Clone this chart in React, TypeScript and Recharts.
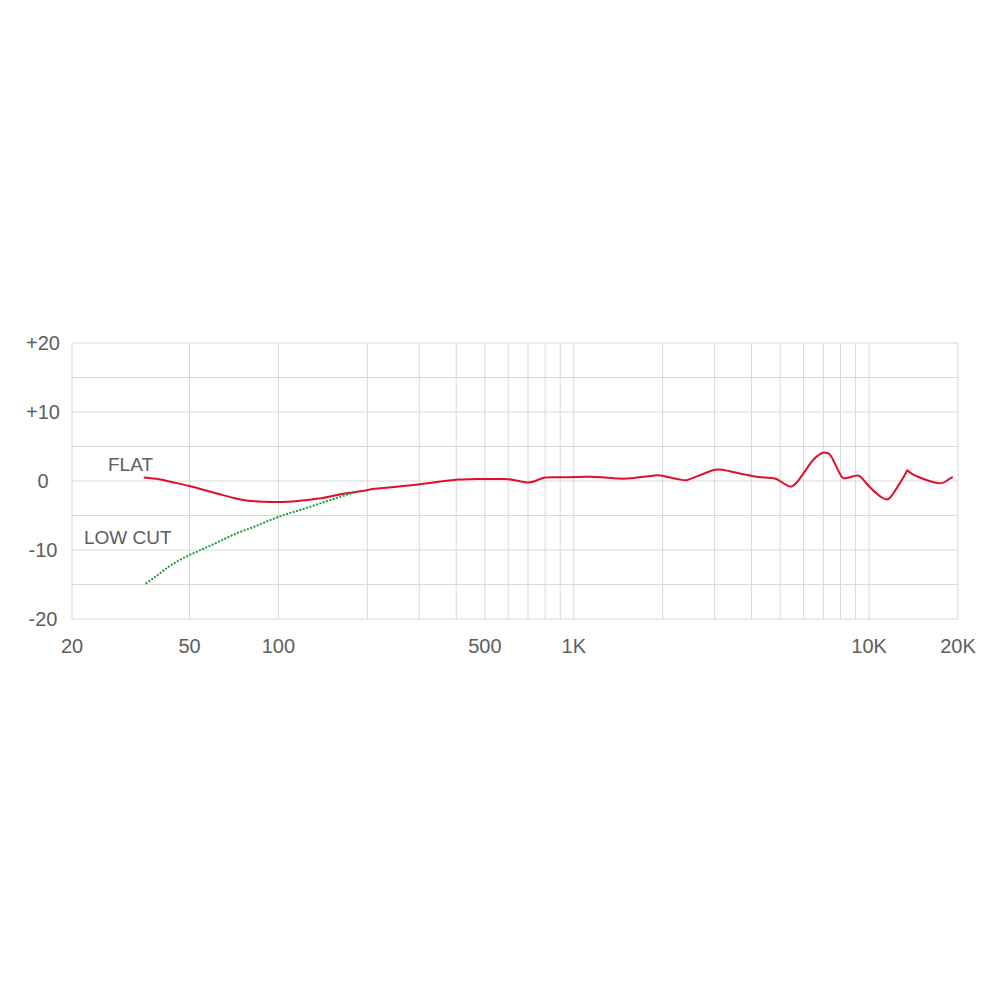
import { LineChart, Line, XAxis, YAxis, CartesianGrid, Customized } from "recharts"

// frequency response, FLAT setting (Hz / dB)
const flatFreq = [
  35, 39.4, 43.6, 49.6, 56.5, 64.2, 73, 83, 94.5, 107.5, 116, 139.5, 155, 176, 201, 217, 297, 406,
  500, 585, 633, 693, 740, 800, 911, 1092, 1242, 1413, 1607, 1876, 2026, 2300, 2430, 2621, 2982,
  3305, 4061, 4741, 4989, 5323, 5676, 6291, 6624, 6978, 7200, 7437, 7930, 8352, 9143, 9747,
  11160, 12120, 13330, 13890, 16830, 18270, 19200,
];
const flatDb = [
  0.5, 0.25, -0.15, -0.7, -1.35, -2.0, -2.6, -2.95, -3.05, -3.0, -2.9, -2.5, -2.1, -1.7, -1.3, -1.1, -0.5, 0.2,
  0.3, 0.3, 0.1, -0.2, 0.0, 0.5, 0.55, 0.6, 0.55, 0.35, 0.45, 0.8, 0.7, 0.2, 0.15, 0.7, 1.6,
  1.5, 0.7, 0.4, 0.0, -0.7, -0.25, 2.4, 3.5, 4.1, 4.05, 3.6, 1.2, 0.4, 0.8, -0.25,
  -2.5, -1.7, 1.2, 1.1, -0.25, 0.0, 0.6,
];

// LOW CUT setting, only differs below ~180 Hz
const lowCutFreq = [35.5, 39.4, 43.6, 49.6, 56.5, 64.2, 73, 83.1, 94.5, 107.5, 122.5, 139.5, 159, 181];
const lowCutDb = [-14.9, -13.5, -12.1, -10.8, -9.7, -8.6, -7.5, -6.6, -5.6, -4.75, -4.0, -3.2, -2.4, -1.65];

const gridFreqs = [
  20, 50, 100, 200, 300, 400, 500, 600, 700, 800, 900, 1000,
  2000, 3000, 4000, 5000, 6000, 7000, 8000, 9000, 10000, 20000,
];
const labeledFreqs = [20, 50, 100, 500, 1000, 10000, 20000];
const labeledText = ["20", "50", "100", "500", "1K", "10K", "20K"];
const dbTicks = [-20, -15, -10, -5, 0, 5, 10, 15, 20];

const flatData = flatFreq.map((f, i) => ({ freq: f, db: flatDb[i] }));
const lowCutData = lowCutFreq.map((f, i) => ({ freq: f, db: lowCutDb[i] }));

const FONT = "'Liberation Sans', Arial, sans-serif";
const GREY = "#5e5e5e";

const formatFreq = (v: number) => {
  const i = labeledFreqs.indexOf(v);
  return i >= 0 ? labeledText[i] : "";
};

const formatDb = (v: number) => {
  if (v % 10 !== 0) return "";
  return v > 0 ? `+${v}` : `${v}`;
};

const Annotations = () => (
  <g fontFamily={FONT} fontSize={19} fill={GREY}>
    <text x={100} y={463}>FLAT</text>
    <text x={76} y={536}>LOW CUT</text>
  </g>
);

export default function App() {
  return (
    <div style={{ fontFamily: FONT }}>
      <LineChart
        width={984}
        height={700}
        margin={{ top: 335, right: 34, bottom: 59, left: 0 }}
      >
        <CartesianGrid stroke="#d9d9d9" strokeWidth={1} />
        <XAxis
          dataKey="freq"
          type="number"
          scale="log"
          domain={[20, 20000]}
          ticks={gridFreqs}
          interval={0}
          allowDataOverflow
          tickFormatter={formatFreq}
          axisLine={false}
          tickLine={false}
          tickSize={6}
          tickMargin={14}
          height={30}
          tick={{ fill: GREY, fontSize: 20, fontFamily: FONT }}
        />
        <YAxis
          type="number"
          domain={[-20, 20]}
          ticks={dbTicks}
          interval={0}
          tickFormatter={formatDb}
          axisLine={false}
          tickLine={false}
          tickSize={6}
          tickMargin={23}
          width={64}
          tick={{ fill: GREY, fontSize: 20, fontFamily: FONT, textAnchor: "middle" }}
        />
        <Line
          data={flatData}
          dataKey="db"
          type="natural"
          stroke="#e0102a"
          strokeWidth={2}
          dot={false}
          activeDot={false}
          isAnimationActive={false}
        />
        <Line
          data={lowCutData}
          dataKey="db"
          type="natural"
          stroke="#1e9a3c"
          strokeWidth={2}
          strokeDasharray="2 1.5"
          dot={false}
          activeDot={false}
          isAnimationActive={false}
        />
        <Customized component={Annotations} />
      </LineChart>
    </div>
  )
}
